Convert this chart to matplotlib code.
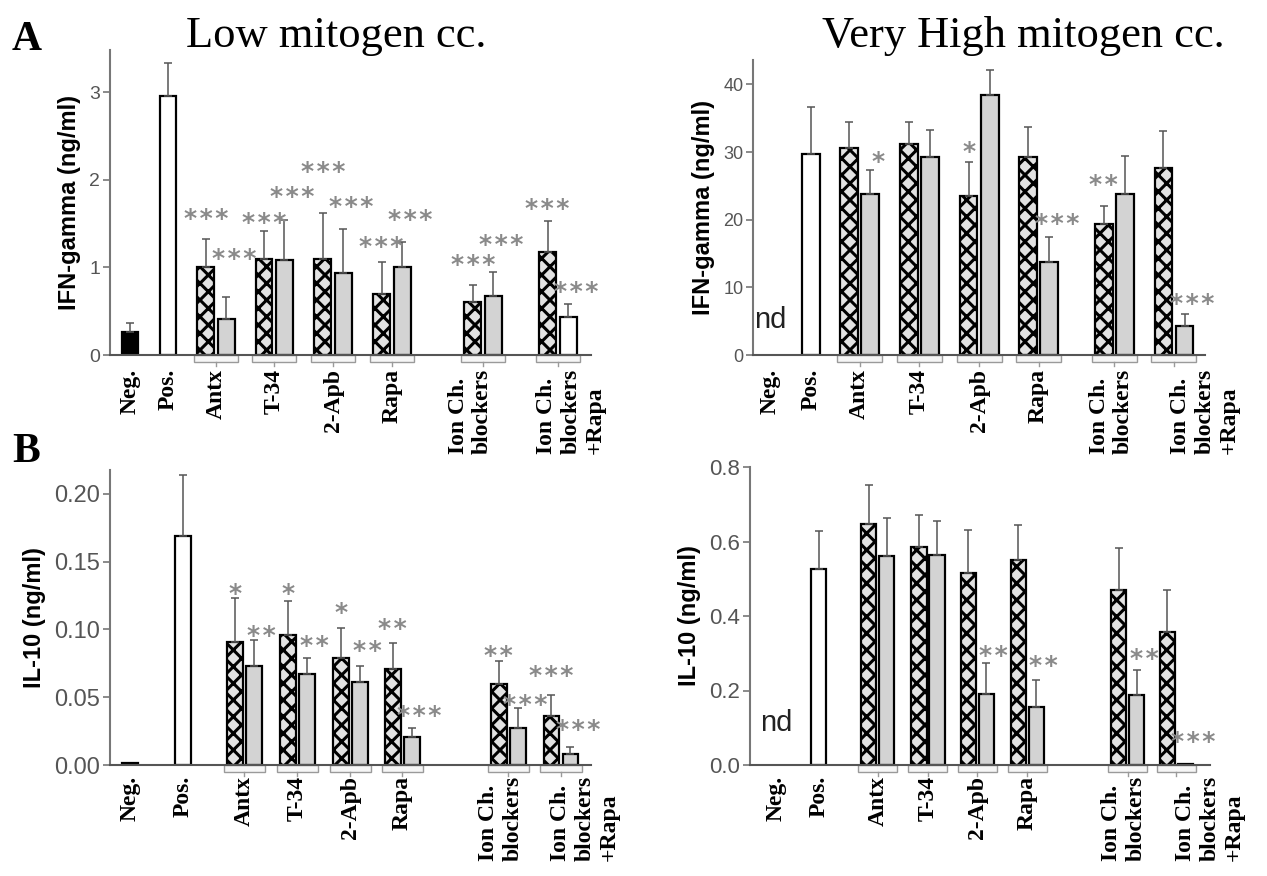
import numpy as np
import matplotlib.pyplot as plt
from matplotlib.patches import Rectangle
from matplotlib.ticker import FormatStrFormatter
from matplotlib import transforms

plt.rcParams['hatch.linewidth'] = 2.2

W, H = 1267, 876
SERIF = 'Liberation Serif'
SANS = 'Liberation Sans'

# ---------------------------------------------------------------
# DATA
# ---------------------------------------------------------------
controls = ["Neg.", "Pos."]
treatments = ["Antx", "T-34", "2-Apb", "Rapa",
              "Ion Ch.\nblockers", "Ion Ch.\nblockers\n+Rapa"]

# A, IFN-gamma, low mitogen
ifn_low_ctrl = [0.26, 2.95]
ifn_low_ctrl_err = [0.11, 0.38]
ifn_low_hatch = [1.00, 1.10, 1.09, 0.70, 0.60, 1.17]
ifn_low_hatch_err = [0.32, 0.32, 0.53, 0.36, 0.20, 0.36]
ifn_low_second = [0.41, 1.08, 0.94, 1.00, 0.67, 0.43]
ifn_low_second_err = [0.25, 0.46, 0.50, 0.29, 0.28, 0.15]
ifn_low_stars_hatch = ["***", "***", "***", "***", "***", "***"]
ifn_low_stars_second = ["***", "***", "***", "***", "***", "***"]

# A, IFN-gamma, very high mitogen (Neg. not detected)
ifn_high_ctrl = [None, 29.7]
ifn_high_ctrl_err = [0, 7.0]
ifn_high_hatch = [30.6, 31.2, 23.5, 29.2, 19.4, 27.7]
ifn_high_hatch_err = [3.9, 3.3, 5.0, 4.5, 2.6, 5.4]
ifn_high_second = [23.8, 29.2, 38.5, 13.7, 23.8, 4.3]
ifn_high_second_err = [3.5, 4.0, 3.6, 3.7, 5.6, 1.7]
ifn_high_stars_hatch = ["", "", "*", "", "**", ""]
ifn_high_stars_second = ["*", "", "", "***", "", "***"]

# B, IL-10, low mitogen
il10_low_ctrl = [0.0015, 0.169]
il10_low_ctrl_err = [0, 0.045]
il10_low_hatch = [0.091, 0.096, 0.079, 0.071, 0.060, 0.036]
il10_low_hatch_err = [0.032, 0.025, 0.022, 0.019, 0.017, 0.016]
il10_low_second = [0.073, 0.067, 0.061, 0.021, 0.027, 0.008]
il10_low_second_err = [0.019, 0.012, 0.012, 0.006, 0.015, 0.005]
il10_low_stars_hatch = ["*", "*", "*", "**", "**", "***"]
il10_low_stars_second = ["**", "**", "**", "***", "***", "***"]

# B, IL-10, very high mitogen (Neg. not detected)
il10_high_ctrl = [None, 0.527]
il10_high_ctrl_err = [0, 0.100]
il10_high_hatch = [0.648, 0.585, 0.516, 0.551, 0.471, 0.357]
il10_high_hatch_err = [0.103, 0.085, 0.114, 0.092, 0.112, 0.112]
il10_high_second = [0.560, 0.563, 0.190, 0.155, 0.188, 0.003]
il10_high_second_err = [0.104, 0.092, 0.083, 0.073, 0.068, 0.0]
il10_high_stars_hatch = ["", "", "", "", "", ""]
il10_high_stars_second = ["", "", "**", "**", "**", "***"]

# ---------------------------------------------------------------
# LAYOUT (pixel boxes, bar slots, label slots, star heights)
# ---------------------------------------------------------------
panels = {
    "A_low": dict(box=(110, 591, 50, 355), ylim=3.48, yticks=[0, 1, 2, 3], fmt='%d',
                  xlim=(-0.53, 12.13), ctrl_x=[0, 1.0],
                  grp_x=[2.26, 3.79, 5.34, 6.89, 9.29, 11.26], w=0.44, off=0.27,
                  lab_x=[2.26, 3.79, 5.34, 6.89, 8.95, 11.6],
                  star_y_hatch=[1.64, 1.59, 2.17, 1.32, 1.11, 1.75],
                  star_y_second=[1.18, 1.89, 1.77, 1.63, 1.34, 0.80],
                  tsize=14, lpad=10),
    "A_high": dict(box=(753, 1205, 60, 355), ylim=43.6, yticks=[0, 10, 20, 30, 40], fmt='%d',
                   xlim=(-0.45, 11.45), ctrl_x=[0, 1.08],
                   grp_x=[2.37, 3.95, 5.53, 7.1, 9.1, 10.68], w=0.47, off=0.28,
                   lab_x=[2.37, 3.95, 5.53, 7.1, 9.03, 11.5],
                   star_y_hatch=[0, 0, 31.1, 0, 26.2, 0],
                   star_y_second=[29.6, 0, 0, 20.4, 0, 8.7],
                   tsize=13, lpad=10, nd_y=5.1),
    "B_low": dict(box=(110, 591, 470, 765), ylim=0.2177,
                  yticks=[0, 0.05, 0.10, 0.15, 0.20], fmt='%.2f',
                  xlim=(-0.53, 12.13), ctrl_x=[0, 1.39],
                  grp_x=[3.0, 4.4, 5.79, 7.16, 9.95, 11.34], w=0.42, off=0.25,
                  lab_x=[3.0, 4.4, 5.79, 7.16, 9.76, 11.97],
                  star_y_hatch=[0.132, 0.132, 0.118, 0.106, 0.086, 0.071],
                  star_y_second=[0.101, 0.093, 0.090, 0.042, 0.050, 0.031],
                  tsize=17, lpad=8),
    "B_high": dict(box=(750, 1210, 467, 765), ylim=0.8,
                   yticks=[0, 0.2, 0.4, 0.6, 0.8], fmt='%.1f',
                   xlim=(-0.71, 11.4), ctrl_x=[0, 1.13],
                   grp_x=[2.71, 4.05, 5.37, 6.71, 9.4, 10.7], w=0.41, off=0.24,
                   lab_x=[2.71, 4.05, 5.37, 6.71, 9.29, 11.6],
                   star_y_hatch=[0, 0, 0, 0, 0, 0],
                   star_y_second=[0, 0, 0.313, 0.286, 0.304, 0.083],
                   tsize=16, lpad=8, nd_y=0.112),
}

GRAY = '#d3d3d3'
HATCH_FACE = '#e2e2e2'
STAR_COLOR = '#8a8a8a'
STAR_NUDGE = 0.2      # stars over the second bar sit a bit to the right
STAR_SIZE = 18

fig = plt.figure(figsize=(W / 100, H / 100), dpi=100)


def draw_panel(key, ctrl, ctrl_err, hatch, hatch_err, second, second_err,
               stars_h, stars_s, ylabel, second_colors, neg_color):
    lay = panels[key]
    x0, x1, y0, y1 = lay["box"]
    ax = fig.add_axes([x0 / W, 1 - y1 / H, (x1 - x0) / W, (y1 - y0) / H])
    ax_h_px = y1 - y0
    grp = np.array(lay["grp_x"])
    w, off = lay["w"], lay["off"]

    # controls
    for i, (v, e) in enumerate(zip(ctrl, ctrl_err)):
        if v is None:
            ax.text(lay["ctrl_x"][i], lay["nd_y"], "nd", ha='center', va='center',
                    fontsize=21, family=SANS, color='#222222')
            continue
        face = neg_color if i == 0 else 'white'
        ax.bar(lay["ctrl_x"][i], v, width=w, color=face, edgecolor='black',
               linewidth=1.6, zorder=2)
        if e > 0:
            ax.errorbar(lay["ctrl_x"][i], v, yerr=[[0], [e]], fmt='none',
                        ecolor='#555555', elinewidth=1.1, capsize=3, capthick=1.1, zorder=3)

    # treatment pairs
    ax.bar(grp - off, hatch, width=w, color=HATCH_FACE, edgecolor='black',
           hatch='xx', linewidth=1.6, zorder=2)
    ax.bar(grp + off, second, width=w, color=second_colors, edgecolor='black',
           linewidth=1.6, zorder=2)
    ax.errorbar(grp - off, hatch, yerr=[np.zeros(len(hatch)), hatch_err], fmt='none',
                ecolor='#555555', elinewidth=1.1, capsize=3, capthick=1.1, zorder=3)
    keep = np.array(second_err) > 0
    ax.errorbar((grp + off)[keep], np.array(second)[keep],
                yerr=[np.zeros(keep.sum()), np.array(second_err)[keep]], fmt='none',
                ecolor='#555555', elinewidth=1.1, capsize=3, capthick=1.1, zorder=3)

    # significance stars
    st = transforms.offset_copy(ax.transData, fig=fig, y=-0.58 * STAR_SIZE, units='points')
    for xs, labels, heights in ((grp - off, stars_h, lay["star_y_hatch"]),
                                (grp + off + STAR_NUDGE, stars_s, lay["star_y_second"])):
        for x, s, y in zip(xs, labels, heights):
            if s:
                ax.text(x, y, "\u200a".join(s), ha='center', va='baseline',
                        fontsize=STAR_SIZE, family='DejaVu Sans', fontweight='bold',
                        color=STAR_COLOR, transform=st, zorder=4)

    # little brackets under each pair
    bt = transforms.blended_transform_factory(ax.transData, ax.transAxes)
    bh = 7 / ax_h_px
    pad = 0.08
    for g in grp:
        left = g - off - w / 2 - pad
        right = g + off + w / 2 + pad
        ax.add_patch(Rectangle((left, -bh), right - left, bh, transform=bt,
                               facecolor='#f6f6f6', edgecolor='#9a9a9a',
                               linewidth=1.0, clip_on=False, zorder=1))
        ax.plot([g, g], [-bh, -bh - 4 / ax_h_px], transform=bt, color='#9a9a9a',
                linewidth=1.0, clip_on=False)

    # axes styling
    ax.set_xlim(*lay["xlim"])
    ax.set_ylim(0, lay["ylim"])
    for s in ('top', 'right'):
        ax.spines[s].set_visible(False)
    ax.spines['left'].set_color('#777777')
    ax.spines['bottom'].set_color('#555555')
    ax.spines['left'].set_linewidth(1.5)
    ax.spines['bottom'].set_linewidth(1.5)

    ax.set_yticks(lay["yticks"])
    ax.yaxis.set_major_formatter(FormatStrFormatter(lay["fmt"]))
    ax.tick_params(axis='y', direction='out', length=5, width=1.2, color='#777777',
                   labelcolor='#555555', labelsize=lay["tsize"], pad=2)
    for t in ax.get_yticklabels():
        t.set_family(SANS)

    ax.set_xticks(list(lay["ctrl_x"]) + list(lay["lab_x"]))
    ax.set_xticklabels(controls + treatments, rotation=90, family=SERIF,
                       fontweight='bold', fontsize=17, va='top', ha='center',
                       ma='left', linespacing=1.2)
    ax.tick_params(axis='x', length=0, pad=lay["lpad"])

    ax.set_ylabel(ylabel, family=SANS, fontweight='bold', fontsize=17, labelpad=6)
    return ax


draw_panel("A_low", ifn_low_ctrl, ifn_low_ctrl_err, ifn_low_hatch, ifn_low_hatch_err,
           ifn_low_second, ifn_low_second_err, ifn_low_stars_hatch, ifn_low_stars_second,
           "IFN-gamma (ng/ml)", [GRAY] * 5 + ['white'], 'black')
draw_panel("A_high", ifn_high_ctrl, ifn_high_ctrl_err, ifn_high_hatch, ifn_high_hatch_err,
           ifn_high_second, ifn_high_second_err, ifn_high_stars_hatch, ifn_high_stars_second,
           "IFN-gamma (ng/ml)", [GRAY] * 6, 'black')
draw_panel("B_low", il10_low_ctrl, il10_low_ctrl_err, il10_low_hatch, il10_low_hatch_err,
           il10_low_second, il10_low_second_err, il10_low_stars_hatch, il10_low_stars_second,
           "IL-10 (ng/ml)", [GRAY] * 6, 'black')
draw_panel("B_high", il10_high_ctrl, il10_high_ctrl_err, il10_high_hatch, il10_high_hatch_err,
           il10_high_second, il10_high_second_err, il10_high_stars_hatch, il10_high_stars_second,
           "IL-10 (ng/ml)", [GRAY] * 6, 'black')

# titles and panel letters
fig.text(336 / W, 1 - 47 / H, "Low mitogen cc.", ha='center', va='baseline',
         fontsize=32, family=SERIF)
fig.text(1023 / W, 1 - 47 / H, "Very High mitogen cc.", ha='center', va='baseline',
         fontsize=32, family=SERIF)
fig.text(12 / W, 1 - 50 / H, "A", ha='left', va='baseline', fontsize=30,
         family=SERIF, fontweight='bold')
fig.text(12 / W, 1 - 462 / H, "B", ha='left', va='baseline', fontsize=30,
         family=SERIF, fontweight='bold')

fig.savefig("out.png", dpi=100)
